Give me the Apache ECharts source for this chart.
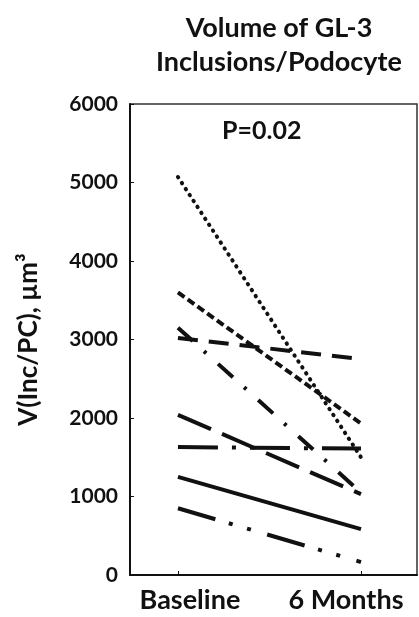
<!DOCTYPE html>
<html>
<head>
<meta charset="utf-8">
<script src="https://cdn.jsdelivr.net/npm/echarts@6/dist/echarts.min.js"></script>
<style>
  html, body { margin: 0; padding: 0; background: #fff; }
  #chart { width: 419px; height: 617px; }
</style>
</head>
<body>
<div id="chart"></div>
<script>
// Timepoints and per-patient inclusion volumes (µm³)
const timepoints = ['Baseline', '6 Months'];
const baselineValues = [5070, 3600, 3150, 3020, 2040, 1630, 1250, 850];
const sixMonthValues = [1500, 1930, 1050, 2750, 1030, 1610, 585, 165];
const yTicks = [0, 1000, 2000, 3000, 4000, 5000, 6000];
const pValueText = 'P=0.02';

// One line style per patient
const dashStyles = [
  { type: [0.5, 6.6], cap: 'round' },
  { type: [8, 4], cap: 'butt' },
  { type: [20, 15, 3, 16], cap: 'butt' },
  { type: [20, 11], cap: 'butt' },
  { type: [36, 12], cap: 'butt' },
  { type: [40, 14, 4, 14], cap: 'butt' },
  { type: 'solid', cap: 'butt' },
  { type: [39, 14, 4, 15, 4, 17], cap: 'butt' }
];

const FONT = 'Lato';
const INK = '#111';

const series = baselineValues.map((b, i) => ({
  name: 'Patient ' + (i + 1),
  type: 'line',
  symbol: 'none',
  silent: true,
  lineStyle: Object.assign({ color: INK, width: 4 }, dashStyles[i]),
  data: [[0, b], [1, sixMonthValues[i]]]
}));

const chart = echarts.init(document.getElementById('chart'), null, { renderer: 'canvas' });
chart.setOption({
  animation: false,
  backgroundColor: '#fff',
  title: {
    text: 'Volume of GL-3\nInclusions/Podocyte',
    left: 274,
    top: 6,
    textAlign: 'center',
    textStyle: { fontFamily: FONT, fontWeight: 'bold', fontSize: 27, lineHeight: 34, color: INK }
  },
  graphic: [{
    type: 'text',
    left: 222,
    top: 118,
    style: { text: pValueText, fontFamily: FONT, fontWeight: 'bold', fontSize: 25, fill: INK }
  }],
  grid: {
    left: 130, right: 2, top: 104, bottom: 42,
    show: true, borderColor: '#333', borderWidth: 1.5
  },
  xAxis: {
    type: 'value',
    min: -0.262,
    max: 1.306,
    splitLine: { show: false },
    axisLine: { onZero: false, lineStyle: { color: INK, width: 2 } },
    axisTick: { show: true, inside: true, length: 4, customValues: [0, 1], lineStyle: { color: INK, width: 1 } },
    axisLabel: {
      customValues: [0, 1],
      margin: 12,
      formatter: v => v === 0 ? '{a|' + timepoints[0] + '}' : '{b|' + timepoints[1] + '}',
      rich: {
        a: { fontFamily: FONT, fontWeight: 'bold', fontSize: 27, color: INK, padding: [0, 0, 0, 24] },
        b: { fontFamily: FONT, fontWeight: 'bold', fontSize: 27, color: INK, padding: [0, 30, 0, 0] }
      }
    }
  },
  yAxis: {
    type: 'value',
    min: yTicks[0],
    max: yTicks[yTicks.length - 1],
    interval: yTicks[1] - yTicks[0],
    name: 'V(Inc/PC), µm³',
    nameLocation: 'middle',
    nameGap: 88,
    nameTextStyle: { fontFamily: FONT, fontWeight: 'bold', fontSize: 26, color: INK },
    splitLine: { show: false },
    axisLine: { show: true, onZero: false, lineStyle: { color: INK, width: 2 } },
    axisTick: { show: true, inside: true, length: 4, lineStyle: { color: INK, width: 1 } },
    axisLabel: {
      fontFamily: FONT, fontWeight: 'bold', fontSize: 21, color: INK, margin: 12,
      formatter: v => String(v)
    }
  },
  series: series
});
</script>
</body>
</html>
